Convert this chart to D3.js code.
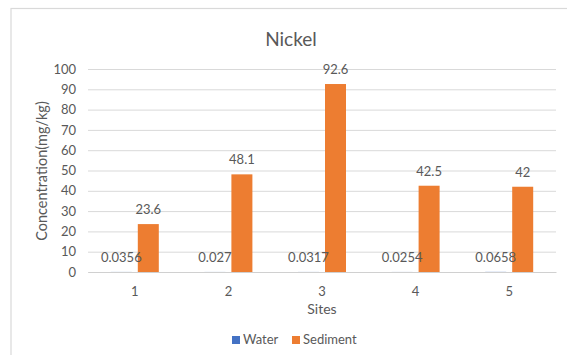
<!DOCTYPE html>
<html><head><meta charset="utf-8">
<script src="https://cdn.jsdelivr.net/npm/d3@7"></script>
<style>
html,body{margin:0;padding:0;background:#fff;}
svg text{font-family:Lato,"Open Sans",sans-serif;}
</style></head>
<body>
<svg id="c" width="567" height="355"></svg>
<script>
const categories = ["1","2","3","4","5"];
const seriesNames = ["Water","Sediment"];
const water = [0.0356, 0.027, 0.0317, 0.0254, 0.0658];
const sediment = [23.6, 48.1, 92.6, 42.5, 42];
const waterLabels = ["0.0356","0.027","0.0317","0.0254","0.0658"];
const sedimentLabels = ["23.6","48.1","92.6","42.5","42"];
const yTicks = [0,10,20,30,40,50,60,70,80,90,100];
const colors = {Water:"#4472C4", Sediment:"#ED7D31"};

(function(){
const svg = d3.select("#c");
const textColor = "#595959";

// frame
svg.append("rect").attr("x",11).attr("y",8.5).attr("width",600).attr("height",400)
  .attr("fill","none").attr("stroke","#d9d9d9").attr("stroke-width",1.2);

const pLeft = 88, pRight = 556, pTop = 69, pBottom = 272;
const x0 = d3.scaleBand().domain(categories).range([pLeft,pRight]).padding(0);
const y = d3.scaleLinear().domain([0,100]).range([pBottom,pTop]);
const bw = x0.bandwidth();
const x1 = d3.scaleBand().domain(seriesNames).range([bw/2-24, bw/2+24]).paddingInner(6/27);

// gridlines
const yAxis = d3.axisLeft(y).tickValues(yTicks).tickSize(-(pRight-pLeft)).tickPadding(12);
const gy = svg.append("g").attr("transform",`translate(${pLeft},0)`).call(yAxis);
gy.select(".domain").remove();
gy.selectAll(".tick line").attr("stroke","#d9d9d9").attr("stroke-width",1);
gy.selectAll(".tick text").attr("fill",textColor).style("font-size","13px");

// x axis
const xAxis = d3.axisBottom(x0).tickSize(0).tickPadding(15);
const gx = svg.append("g").attr("transform",`translate(0,${pBottom})`).call(xAxis);
gx.select(".domain").attr("stroke","#d0d0d0");
gx.selectAll(".tick text").attr("fill",textColor).style("font-size","13px");

// bars
const data = categories.map((c,i)=>({c, Water:water[i], Sediment:sediment[i], wl:waterLabels[i], sl:sedimentLabels[i]}));
const g = svg.append("g");
data.forEach(d=>{
  seriesNames.forEach(s=>{
    g.append("rect")
      .attr("x", x0(d.c)+x1(s))
      .attr("width", x1.bandwidth())
      .attr("y", y(d[s]))
      .attr("height", pBottom - y(d[s]))
      .attr("fill", colors[s]);
  });
  g.append("text").attr("x", x0(d.c)+x1("Water")+x1.bandwidth()/2)
    .attr("y", y(d.Water)-10).attr("text-anchor","middle")
    .attr("fill",textColor).style("font-size","13px").text(d.wl);
  g.append("text").attr("x", x0(d.c)+x1("Sediment")+x1.bandwidth()/2)
    .attr("y", y(d.Sediment)-10).attr("text-anchor","middle")
    .attr("fill",textColor).style("font-size","13px").text(d.sl);
});

// title
svg.append("text").attr("x",291).attr("y",46).attr("text-anchor","middle")
  .attr("fill",textColor).style("font-size","19px").text("Nickel");
// axis titles
svg.append("text").attr("transform","translate(47,171) rotate(-90)").attr("text-anchor","middle")
  .attr("fill",textColor).style("font-size","14.5px").text("Concentration(mg/kg)");
svg.append("text").attr("x",322).attr("y",314).attr("text-anchor","middle")
  .attr("fill",textColor).style("font-size","14px").text("Sites");

// legend
const leg = svg.append("g");
const legItems = [{n:"Water",x:232},{n:"Sediment",x:292}];
legItems.forEach(it=>{
  leg.append("rect").attr("x",it.x).attr("y",336).attr("width",8).attr("height",8).attr("fill",colors[it.n]);
  leg.append("text").attr("x",it.x+11).attr("y",344).attr("fill",textColor).style("font-size","13px").text(it.n);
});
})();
</script>
</body></html>
